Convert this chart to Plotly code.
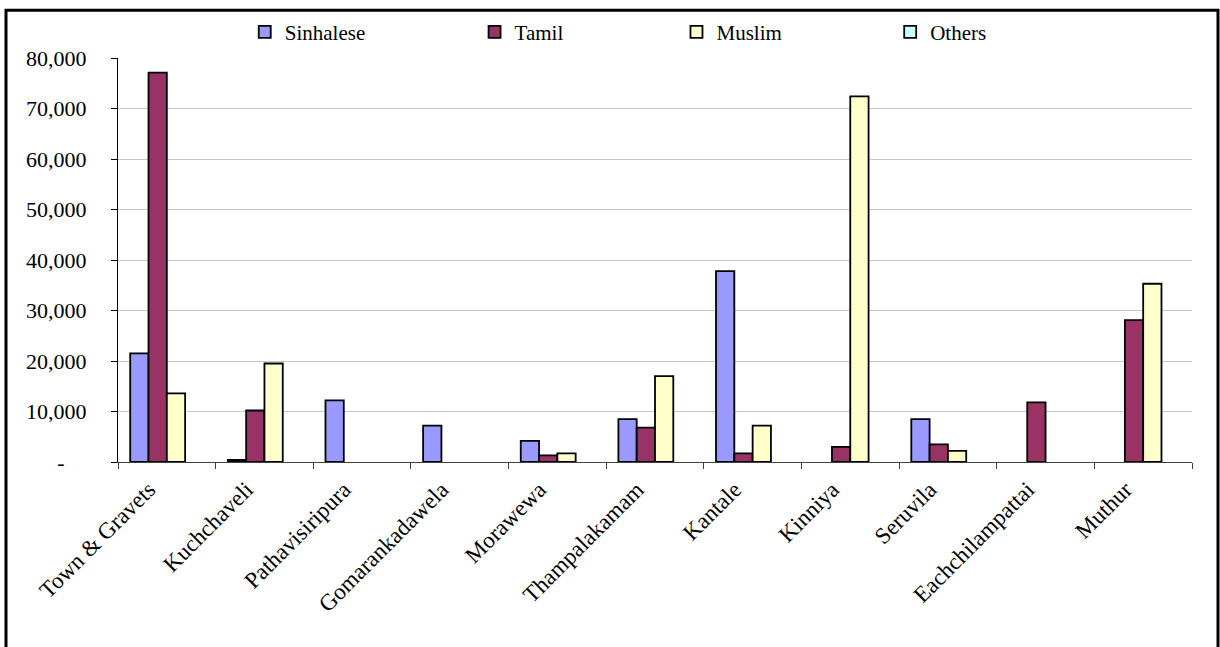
import plotly.graph_objects as go

categories = ["Town & Gravets", "Kuchchaveli", "Pathavisiripura", "Gomarankadawela",
              "Morawewa", "Thampalakamam", "Kantale", "Kinniya", "Seruvila",
              "Eachchilampattai", "Muthur"]
sinhalese = [21500, 400, 12200, 7200, 4200, 8500, 37800, 0, 8500, 0, 0]
tamil = [77100, 10200, 0, 0, 1300, 6800, 1700, 3000, 3500, 11800, 28100]
muslim = [13600, 19500, 0, 0, 1700, 17000, 7200, 72400, 2200, 0, 35300]
others = [0, 0, 0, 0, 0, 0, 0, 0, 0, 0, 0]

y_ticks = [0, 10000, 20000, 30000, 40000, 50000, 60000, 70000, 80000]
y_tick_text = ["-\u00a0\u00a0\u00a0\u00a0", "10,000", "20,000", "30,000", "40,000",
               "50,000", "60,000", "70,000", "80,000"]

series = [
    ("Sinhalese", sinhalese, "#9999ff", "legend", 0.118),
    ("Tamil", tamil, "#993366", "legend2", 0.332),
    ("Muslim", muslim, "#ffffcc", "legend3", 0.520),
    ("Others", others, "#ccffff", "legend4", 0.719),
]

FONT = "Liberation Serif, serif"

fig = go.Figure()
for name, vals, color, leg, _ in series:
    # zero values are not drawn (no flat outline on the axis)
    shown = [v if v > 0 else None for v in vals]
    fig.add_trace(go.Bar(
        x=categories, y=shown, name=name, legend=leg, showlegend=True,
        marker=dict(color=color, line=dict(color="black", width=1.8)),
    ))

legend_common = dict(orientation="h", yanchor="middle", y=1.064, xanchor="left",
                     font=dict(family=FONT, size=21, color="black"),
                     bgcolor="rgba(0,0,0,0)", itemwidth=30, visible=True)
layout_legends = {}
for name, vals, color, leg, lx in series:
    layout_legends[leg] = dict(legend_common, x=lx)

fig.update_layout(
    width=1220, height=647,
    margin=dict(l=118, r=28, t=56, b=185),
    plot_bgcolor="white", paper_bgcolor="white",
    barmode="group", bargap=0.25, bargroupgap=0,
    showlegend=True,
    font=dict(family=FONT, size=22, color="black"),
    **layout_legends,
)
fig.update_xaxes(
    type="category", tickangle=-45, tickson="boundaries",
    ticks="outside", ticklen=6, tickcolor="#404040",
    showline=True, linecolor="#404040", linewidth=1,
    showgrid=False, tickfont=dict(family=FONT, size=23, color="black"),
    ticklabelshift=-18, ticklabelstandoff=4,
)
fig.update_yaxes(
    range=[0, 80000], tickvals=y_ticks, ticktext=y_tick_text,
    ticks="outside", ticklen=6, tickcolor="black",
    showline=True, linecolor="black", linewidth=1,
    showgrid=True, gridcolor="#c8c8c8", gridwidth=1,
    zeroline=False, ticklabelstandoff=20,
    tickfont=dict(family=FONT, size=22, color="black"),
)
# outer chart frame
fig.add_shape(type="rect", xref="paper", yref="paper",
              x0=(6 - 118) / 1074, x1=(1218 - 118) / 1074,
              y0=(462 - 660) / 406, y1=(462 - 8) / 406,
              line=dict(color="black", width=3), fillcolor="rgba(0,0,0,0)",
              layer="above")

fig.write_html("out.html")
